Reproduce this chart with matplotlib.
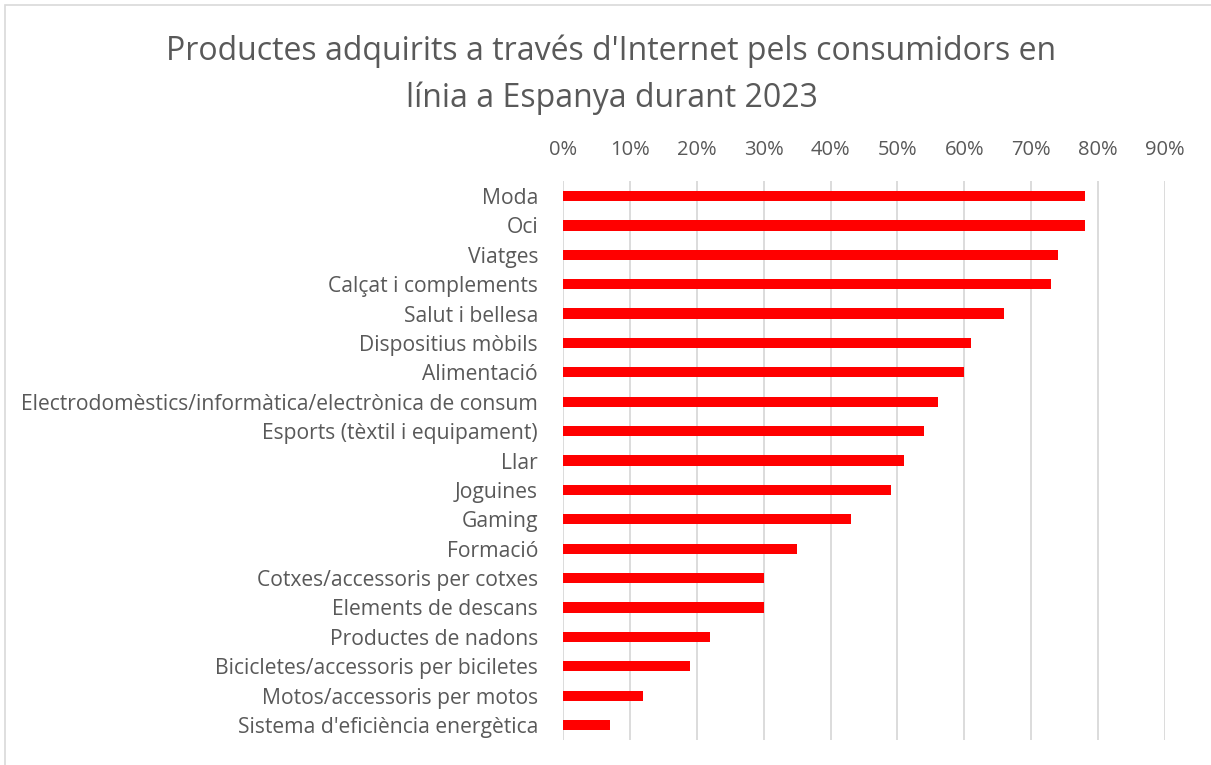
import matplotlib.pyplot as plt
from matplotlib.patches import Rectangle
from matplotlib.ticker import PercentFormatter

categories = [
    "Moda", "Oci", "Viatges", "Calçat i complements", "Salut i bellesa",
    "Dispositius mòbils", "Alimentació",
    "Electrodomèstics/informàtica/electrònica de consum",
    "Esports (tèxtil i equipament)", "Llar", "Joguines", "Gaming", "Formació",
    "Cotxes/accessoris per cotxes", "Elements de descans",
    "Productes de nadons", "Bicicletes/accessoris per biciletes",
    "Motos/accessoris per motos", "Sistema d'eficiència energètica",
]
values = [0.78, 0.78, 0.74, 0.73, 0.66, 0.61, 0.60, 0.56, 0.54, 0.51,
          0.49, 0.43, 0.35, 0.30, 0.30, 0.22, 0.19, 0.12, 0.07]
ticks = [i / 10 for i in range(10)]

plt.rcParams['font.family'] = ['Open Sans', 'DejaVu Sans']
text_col = '#595959'

fig = plt.figure(figsize=(12.11, 7.65), dpi=100)
fig.patches.append(Rectangle((0.004, -0.01), 1.0, 1.003, transform=fig.transFigure,
                             fill=False, edgecolor='#d9d9d9', linewidth=1.2))
ax = fig.add_axes([0.465, 0.033, 0.497, 0.730])

ypos = list(range(len(categories)))
ax.barh(ypos, values, height=0.35, color='#ff0000', zorder=3)
ax.set_ylim(len(categories) - 0.5, -0.5)
ax.set_yticks(ypos)
ax.set_yticklabels(categories, fontsize=15.2, color=text_col)

ax.set_xlim(0, 0.9)
ax.set_xticks(ticks)
ax.xaxis.set_major_formatter(PercentFormatter(1.0, decimals=0))
ax.xaxis.tick_top()
ax.tick_params(axis='x', length=0, pad=15, labelsize=14.5, labelcolor=text_col)
ax.tick_params(axis='y', length=0, pad=18)
ax.grid(axis='x', color='#d9d9d9', linewidth=1.3, zorder=0)
for s in ax.spines.values():
    s.set_visible(False)

fig.text(0.505, 0.902, "Productes adquirits a través d'Internet pels consumidors en\nlínia a Espanya durant 2023",
         ha='center', va='center', fontsize=23, color=text_col, linespacing=1.55)

fig.savefig('out.png', dpi=100)
